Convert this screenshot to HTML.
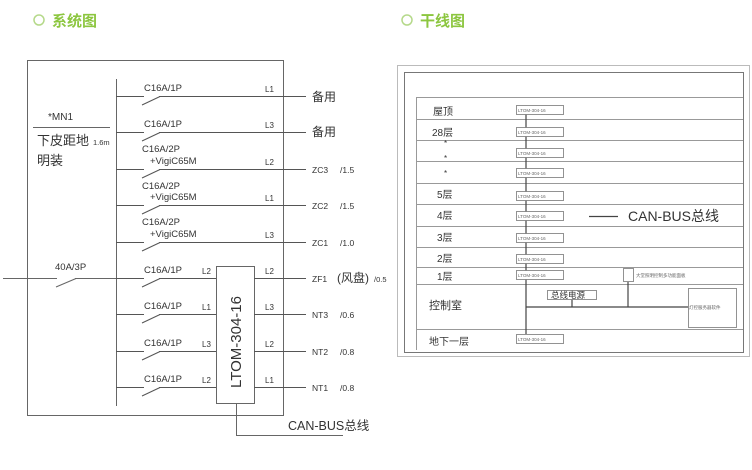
<!DOCTYPE html>
<html><head><meta charset="utf-8"><style>
html,body{margin:0;padding:0;background:#fff;}
svg{display:block;font-family:"Liberation Sans","Noto Sans CJK SC",sans-serif;}
</style></head><body>
<svg width="752" height="470" viewBox="0 0 752 470" xmlns="http://www.w3.org/2000/svg">
<!-- titles -->
<circle cx="39" cy="20" r="5" fill="none" stroke="#b5d98a" stroke-width="1.5"/>
<text x="52" y="26" font-size="15" font-weight="bold" fill="#8cc63f">系统图</text>
<circle cx="407" cy="20" r="5" fill="none" stroke="#b5d98a" stroke-width="1.5"/>
<text x="420" y="26" font-size="15" font-weight="bold" fill="#8cc63f">干线图</text>

<g stroke="#666" stroke-width="1" fill="none">
<rect x="27.5" y="60.5" width="256" height="355"/>
<line x1="116.5" y1="79" x2="116.5" y2="406"/>
<line x1="33" y1="127.5" x2="110" y2="127.5"/>
<!-- input -->
<line x1="3" y1="278.5" x2="57" y2="278.5"/>
<line x1="56" y1="287" x2="76" y2="278.5"/>
<line x1="75" y1="278.5" x2="116" y2="278.5"/>
<!-- module -->
<rect x="216.5" y="266.5" width="38" height="137"/>
<polyline points="236.5,403 236.5,435.5 343,435.5"/>
</g>
<g stroke="#555" stroke-width="1" fill="none" id="br">
<!-- branches -->
<path d="M116 96.5H144M142 105L160 96.5M159 96.5H306"/>
<path d="M116 132.5H144M142 141L160 132.5M159 132.5H306"/>
<path d="M116 169.5H144M142 178L160 169.5M159 169.5H306"/>
<path d="M116 205.5H144M142 214L160 205.5M159 205.5H306"/>
<path d="M116 242.5H144M142 251L160 242.5M159 242.5H306"/>
<path d="M116 278.5H144M142 287L160 278.5M159 278.5H216M254 278.5H306"/>
<path d="M116 314.5H144M142 323L160 314.5M159 314.5H216M254 314.5H306"/>
<path d="M116 351.5H144M142 360L160 351.5M159 351.5H216M254 351.5H306"/>
<path d="M116 387.5H144M142 396L160 387.5M159 387.5H216M254 387.5H306"/>
</g>
<g fill="#333" font-size="9.5">
<text x="144" y="91">C16A/1P</text>
<text x="144" y="127">C16A/1P</text>
<text x="142" y="152">C16A/2P</text><text x="150" y="164">+VigiC65M</text>
<text x="142" y="189">C16A/2P</text><text x="150" y="200">+VigiC65M</text>
<text x="142" y="225">C16A/2P</text><text x="150" y="237">+VigiC65M</text>
<text x="144" y="273">C16A/1P</text>
<text x="144" y="309">C16A/1P</text>
<text x="144" y="346">C16A/1P</text>
<text x="144" y="382">C16A/1P</text>
<text x="55" y="270">40A/3P</text>
<g font-size="8">
<text x="265" y="92">L1</text><text x="265" y="128">L3</text><text x="265" y="165">L2</text>
<text x="265" y="201">L1</text><text x="265" y="238">L3</text>
<text x="265" y="274">L2</text><text x="265" y="310">L3</text><text x="265" y="347">L2</text><text x="265" y="383">L1</text>
<text x="202" y="274">L2</text><text x="202" y="310">L1</text><text x="202" y="347">L3</text><text x="202" y="383">L2</text>
</g>
<text x="312" y="101" font-size="12">备用</text>
<text x="312" y="136" font-size="12">备用</text>
<g font-size="8.5">
<text x="312" y="173">ZC3</text><text x="340" y="173">/1.5</text>
<text x="312" y="209">ZC2</text><text x="340" y="209">/1.5</text>
<text x="312" y="246">ZC1</text><text x="340" y="246">/1.0</text>
<text x="312" y="282">ZF1</text><text x="337" y="282" font-size="12">(风盘)</text><text x="374" y="282" font-size="7.5">/0.5</text>
<text x="312" y="318">NT3</text><text x="340" y="318">/0.6</text>
<text x="312" y="355">NT2</text><text x="340" y="355">/0.8</text>
<text x="312" y="391">NT1</text><text x="340" y="391">/0.8</text>
</g>
<text x="48" y="120" font-size="10">*MN1</text>
<text x="37" y="145" font-size="13">下皮距地</text><text x="93" y="145" font-size="7.5">1.6m</text>
<text x="37" y="165" font-size="13">明装</text>
<text transform="translate(241,388) rotate(-90)" font-size="15">LTOM-304-16</text>
<text x="288" y="430" font-size="12.5">CAN-BUS总线</text>
</g>

<!-- right diagram -->
<g stroke="#888" fill="none">
<rect x="397.5" y="65.5" width="352" height="291" stroke="#bbb"/>
<rect x="404.5" y="72.5" width="339" height="280" stroke="#777"/>
</g>
<g stroke="#999" stroke-width="1">
<line x1="416" y1="97.5" x2="743" y2="97.5"/>
<line x1="416" y1="119.5" x2="743" y2="119.5"/>
<line x1="416" y1="140.5" x2="743" y2="140.5"/>
<line x1="416" y1="161.5" x2="743" y2="161.5"/>
<line x1="416" y1="183.5" x2="743" y2="183.5"/>
<line x1="416" y1="204.5" x2="743" y2="204.5"/>
<line x1="416" y1="226.5" x2="743" y2="226.5"/>
<line x1="416" y1="247.5" x2="743" y2="247.5"/>
<line x1="416" y1="267.5" x2="743" y2="267.5"/>
<line x1="416" y1="284.5" x2="743" y2="284.5"/>
<line x1="416" y1="329.5" x2="743" y2="329.5"/>
<line x1="416.5" y1="97" x2="416.5" y2="350"/>
</g>
<g stroke="#444" stroke-width="1.2" fill="none">
<line x1="526" y1="110" x2="526" y2="334"/>
<line x1="526" y1="307" x2="688" y2="307"/>
<line x1="572" y1="299" x2="572" y2="307"/>
<line x1="628" y1="282" x2="628" y2="307"/>
</g>
<g stroke="#777" stroke-width="0.8" fill="#fff">
<rect x="516.5" y="105.5" width="47" height="9"/>
<rect x="516.5" y="127.5" width="47" height="9"/>
<rect x="516.5" y="148.5" width="47" height="9"/>
<rect x="516.5" y="168.5" width="47" height="9"/>
<rect x="516.5" y="191.5" width="47" height="9"/>
<rect x="516.5" y="211.5" width="47" height="9"/>
<rect x="516.5" y="233.5" width="47" height="9"/>
<rect x="516.5" y="254.5" width="47" height="9"/>
<rect x="516.5" y="270.5" width="47" height="9"/>
<rect x="516.5" y="334.5" width="47" height="9"/>
<rect x="547.5" y="290.5" width="49" height="9"/>
<rect x="623.5" y="268.5" width="10" height="13"/>
<rect x="688.5" y="288.5" width="48" height="39"/>
</g>
<g fill="#666" font-size="4.5">
<text x="518" y="112">LTOM-304-16</text><text x="518" y="134">LTOM-304-16</text>
<text x="518" y="155">LTOM-304-16</text><text x="518" y="175">LTOM-304-16</text>
<text x="518" y="198">LTOM-304-16</text><text x="518" y="218">LTOM-304-16</text>
<text x="518" y="240">LTOM-304-16</text><text x="518" y="261">LTOM-304-16</text>
<text x="518" y="277">LTOM-304-16</text><text x="518" y="341">LTOM-304-16</text>
<text x="636" y="277">大堂照明控制多功能面板</text>
<text x="689" y="309">灯控服务器软件</text>
</g>
<g fill="#333" font-size="10">
<text x="433" y="115">屋顶</text>
<text x="432" y="136">28层</text>
<text x="444" y="146" font-size="8">*</text>
<text x="444" y="161" font-size="8">*</text>
<text x="444" y="176" font-size="8">*</text>
<text x="437" y="198">5层</text>
<text x="437" y="219">4层</text>
<text x="437" y="241">3层</text>
<text x="437" y="262">2层</text>
<text x="437" y="280">1层</text>
<text x="429" y="309" font-size="11">控制室</text>
<text x="429" y="345">地下一层</text>
<text x="551" y="298" font-size="8.5">总线电源</text>
<text x="628" y="221" font-size="14">CAN-BUS总线</text>
</g>
<line x1="589" y1="216.5" x2="618" y2="216.5" stroke="#444" stroke-width="1.2"/>
</svg>
</body></html>
